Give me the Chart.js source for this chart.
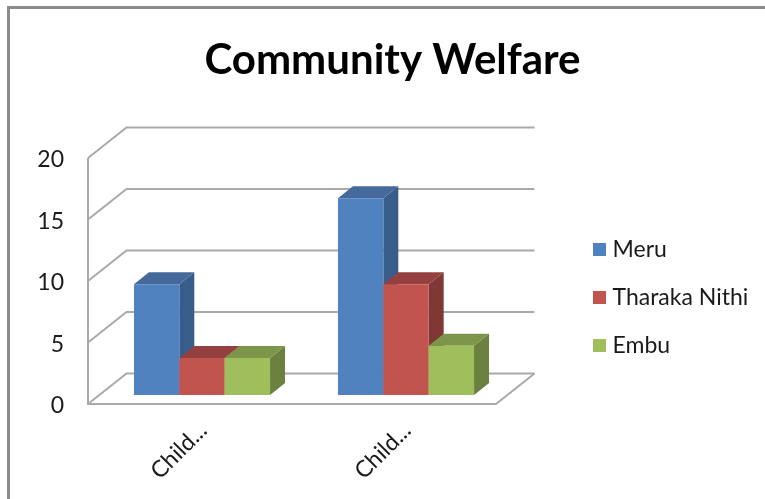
<!DOCTYPE html>
<html><head><meta charset="utf-8">
<style>html,body{margin:0;padding:0;background:#fff}canvas{display:block;filter:blur(0.5px)}</style>
<script src="https://cdn.jsdelivr.net/npm/chart.js@4"></script>
</head><body><div style="width:765px;height:499px"><canvas id="c" width="765" height="499"></canvas></div>
<script>
const categories = ["Child...", "Child..."];
const meru = [9, 16];
const tharakaNithi = [3, 9];
const embu = [3, 4];
const yTicks = [0, 5, 10, 15, 20];
const colors = ["#5082BF", "#C2544F", "#9FBE5C"];
const sideColors = ["#385D8A", "#7F3835", "#6C803F"];
const topColors = ["#44699A", "#944040", "#7D9649"];
const GRID = "#A9A9A9";
const BACK = {dx: 38.5, dy: -30.5};
const PLANE = {dx: 12, dy: -9};
const BAR = {dx: 15, dy: -12};

const poly = (ctx, pts, fill) => {
  ctx.beginPath();
  pts.forEach((p, i) => i ? ctx.lineTo(p[0], p[1]) : ctx.moveTo(p[0], p[1]));
  ctx.closePath();
  ctx.fillStyle = fill;
  ctx.fill();
};
const threeD = {
  id: 'threeD',
  beforeLayout(chart) {
    const lg = chart.legend;
    if (lg && !lg._wrapped) {
      const f = lg.fit;
      lg.fit = function () { f.call(this); this.width = 269; };
      lg._wrapped = true;
    }
  },
  afterLayout(chart) {
    const lg = chart.legend;
    lg.left = 598 - lg.options.labels.padding;
    lg.top += 48; lg.bottom += 48;
  },
  beforeDraw(chart) {
    const ctx = chart.ctx;
    ctx.save();
    ctx.strokeStyle = "#8C8C8C"; ctx.lineWidth = 3;
    ctx.beginPath();
    ctx.moveTo(8.5, 499); ctx.lineTo(8.5, 7.5); ctx.lineTo(765, 7.5);
    ctx.stroke();
    ctx.restore();
  },
  beforeDatasetsDraw(chart) {
    const ctx = chart.ctx, a = chart.chartArea, y = chart.scales.y;
    ctx.save();
    ctx.strokeStyle = GRID; ctx.lineWidth = 2; ctx.lineJoin = 'miter';
    const yb = y.getPixelForValue(yTicks[0]);
    const yt = y.getPixelForValue(yTicks[yTicks.length - 1]);
    ctx.beginPath();
    ctx.moveTo(a.left, yt); ctx.lineTo(a.left, yb); ctx.lineTo(a.right, yb);
    ctx.lineTo(a.right + BACK.dx, yb + BACK.dy);
    ctx.stroke();
    yTicks.forEach(v => {
      const p = y.getPixelForValue(v);
      ctx.beginPath();
      ctx.moveTo(a.left, p);
      ctx.lineTo(a.left + BACK.dx, p + BACK.dy);
      ctx.lineTo(a.right + BACK.dx, p + BACK.dy);
      ctx.stroke();
    });
    ctx.restore();
  },
  beforeDatasetDraw() { return false; },
  afterDatasetsDraw(chart) {
    const ctx = chart.ctx;
    ctx.save();
    ctx.translate(PLANE.dx, PLANE.dy);
    const n = chart.data.labels.length;
    for (let i = 0; i < n; i++) {
      chart.data.datasets.forEach((d, k) => {
        const el = chart.getDatasetMeta(k).data[i];
        const l = el.x - el.width / 2, r = el.x + el.width / 2, t = el.y, b = el.base;
        poly(ctx, [[r, t], [r + BAR.dx, t + BAR.dy], [r + BAR.dx, b + BAR.dy], [r, b]], sideColors[k]);
        poly(ctx, [[l, t], [l + BAR.dx, t + BAR.dy], [r + BAR.dx, t + BAR.dy], [r, t]], topColors[k]);
        el.draw(ctx);
      });
    }
    ctx.restore();
  }
};

Chart.defaults.font.family = "Lato, 'Open Sans', sans-serif";
new Chart(document.getElementById('c'), {
  type: 'bar',
  data: {
    labels: categories,
    datasets: [
      {label: "Meru", data: meru, backgroundColor: colors[0]},
      {label: "Tharaka Nithi", data: tharakaNithi, backgroundColor: colors[1]},
      {label: "Embu", data: embu, backgroundColor: colors[2]}
    ]
  },
  options: {
    responsive: false,
    animation: false,
    layout: {padding: {left: 20, right: 0, top: 0, bottom: 0}},
    datasets: {bar: {categoryPercentage: 0.667, barPercentage: 1}},
    scales: {
      x: {
        grid: {display: false, drawTicks: false},
        border: {display: false},
        afterFit(s) { s.height = 95; },
        ticks: {minRotation: 45, maxRotation: 45, autoSkip: false, padding: 13, labelOffset: 13,
                font: {size: 23}, color: "#1a1a1a"}
      },
      y: {
        min: 0, max: 20,
        grid: {display: false, drawTicks: false},
        border: {display: false},
        afterFit(s) { s.width = 68; },
        ticks: {stepSize: 5, padding: 24, labelOffset: 2, font: {size: 23}, color: "#1a1a1a"}
      }
    },
    plugins: {
      tooltip: {enabled: false},
      title: {display: true, text: "Community Welfare", color: "#000",
              font: {size: 42, weight: 'bold'}, padding: {top: 35, bottom: 72.6}},
      legend: {position: 'right', align: 'center',
               labels: {boxWidth: 3, boxHeight: 3, padding: 25, color: "#1a1a1a", font: {size: 23},
                        generateLabels(chart) {
                          return Chart.defaults.plugins.legend.labels.generateLabels(chart)
                            .map(it => Object.assign(it, {lineWidth: 10, strokeStyle: it.fillStyle}));
                        }}}
    }
  },
  plugins: [threeD]
});
</script></body></html>
